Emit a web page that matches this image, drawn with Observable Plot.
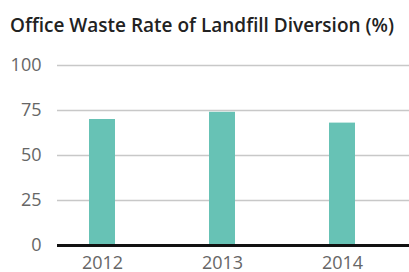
<!DOCTYPE html>
<html><head><meta charset="utf-8">
<script src="https://cdn.jsdelivr.net/npm/d3@7"></script>
<script src="https://cdn.jsdelivr.net/npm/@observablehq/plot@0.6"></script>
<style>
body{margin:0;background:#fff;font-family:"Open Sans",sans-serif;}
#title{height:52px;box-sizing:border-box;padding:16px 0 0 10px;font-size:19px;line-height:19px;font-weight:600;color:#222;white-space:nowrap;}
</style></head><body>
<div id="title">Office Waste Rate of Landfill Diversion (%)</div>
<div id="chart"></div>
<script>
const years = ["2012", "2013", "2014"];
const rates = [70, 74, 68];
const yTicks = [0, 25, 50, 75, 100];

const data = years.map((y, i) => ({year: y, rate: rates[i]}));

const plot = Plot.plot({
  width: 409,
  height: 220,
  marginTop: 13,
  marginBottom: 27,
  marginLeft: 57,
  marginRight: 0,
  style: {fontFamily: "Open Sans, sans-serif", fontSize: "18px", color: "#666", background: "#fff", overflow: "visible"},
  x: {domain: years, paddingInner: 0.783, paddingOuter: 0.358, align: 0.372, label: null},
  y: {domain: [0, 100], label: null},
  marks: [
    Plot.ruleY(yTicks.filter(d => d > 0), {stroke: "#c8c8c8", strokeWidth: 1.5}),
    Plot.barY(data, {x: "year", y: "rate", fill: "#67c2b5"}),
    Plot.ruleY([0], {stroke: "#111", strokeWidth: 3}),
    Plot.axisY({ticks: yTicks, tickSize: 0, tickPadding: 16, label: null, fill: "#666"}),
    Plot.axisX({tickSize: 0, tickPadding: 11, label: null, fill: "#666"})
  ]
});
document.getElementById("chart").appendChild(plot);
</script>
</body></html>
